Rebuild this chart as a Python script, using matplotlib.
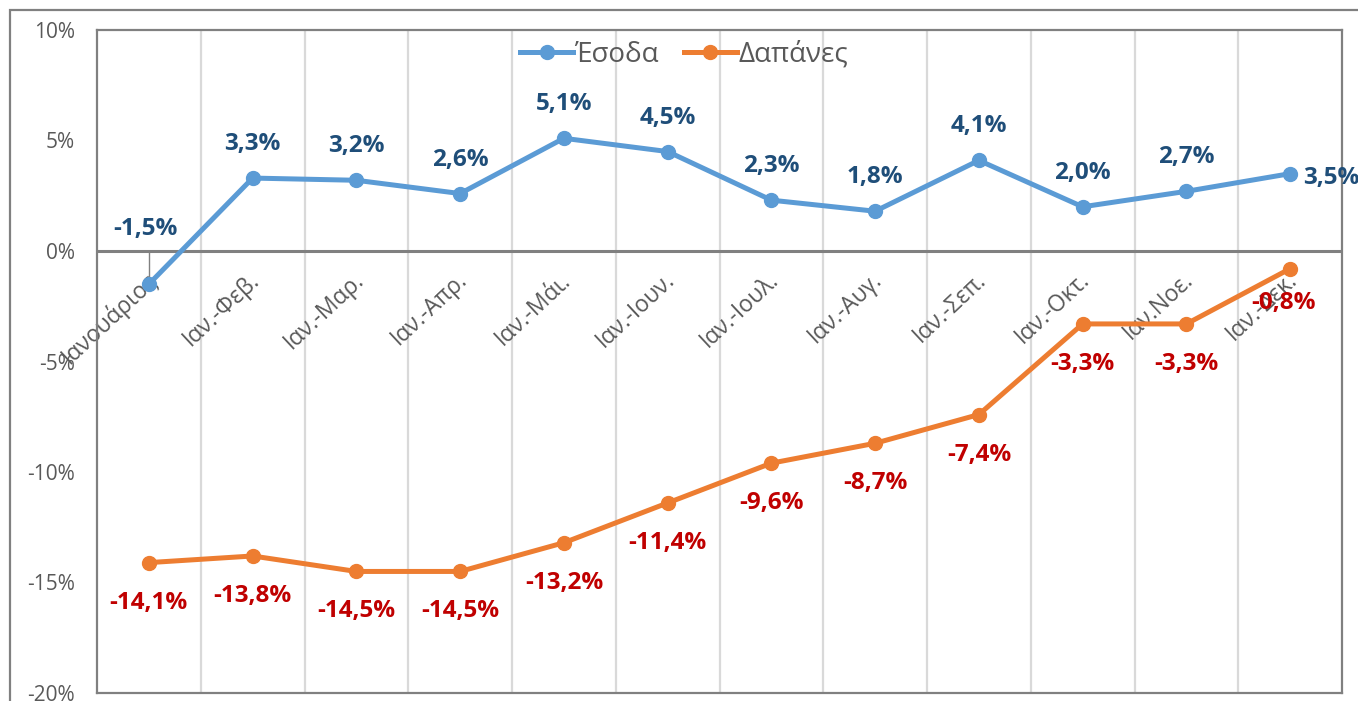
import matplotlib
matplotlib.use("Agg")
import matplotlib.pyplot as plt
from matplotlib.patches import Rectangle

months = ["Ιανουάριος", "Ιαν.-Φεβ.", "Ιαν.-Μαρ.", "Ιαν.-Απρ.", "Ιαν.-Μάι.", "Ιαν.-Ιουν.",
          "Ιαν.-Ιουλ.", "Ιαν.-Αυγ.", "Ιαν.-Σεπ.", "Ιαν.-Οκτ.", "Ιαν.Νοε.", "Ιαν.-Δεκ."]
esoda = [-1.5, 3.3, 3.2, 2.6, 5.1, 4.5, 2.3, 1.8, 4.1, 2.0, 2.7, 3.5]
dapanes = [-14.1, -13.8, -14.5, -14.5, -13.2, -11.4, -9.6, -8.7, -7.4, -3.3, -3.3, -0.8]
yticks = [10, 5, 0, -5, -10, -15, -20]

plt.rcParams['font.family'] = ['Open Sans', 'DejaVu Sans']

blue = '#5B9BD5'
orange = '#ED7D31'
gray = '#808080'
txtgray = '#595959'

fig = plt.figure(figsize=(13.58, 7.01), dpi=100)
ax = fig.add_axes([97/1358, 1 - 693/701, (1342-97)/1358, 663/701])

# outer chart frame (cut at right and bottom)
fig.patches.append(Rectangle((10/1358, -0.1), 1.2, 1 - 10/701 + 0.1, transform=fig.transFigure,
                             fill=False, edgecolor=gray, linewidth=1.6))

x = list(range(len(months)))
ax.set_xlim(-0.5, 11.5)
ax.set_ylim(-20, 10)

# vertical gridlines between categories
for b in range(1, 12):
    ax.axvline(b - 0.5, color='#D9D9D9', linewidth=1.6, zorder=0)
ax.axhline(0, color=gray, linewidth=2.2, zorder=1)

for s in ax.spines.values():
    s.set_color(gray)
    s.set_linewidth(1.6)

ax.plot(x, esoda, color=blue, linewidth=3.6, marker='o', markersize=10, label='Έσοδα', zorder=3)
ax.plot(x, dapanes, color=orange, linewidth=3.6, marker='o', markersize=10, label='Δαπάνες', zorder=3)

ax.set_yticks(yticks)
ax.set_yticklabels([f"{v}%" for v in yticks])
ax.tick_params(axis='y', length=0, pad=16, labelsize=15, labelcolor=txtgray)
ax.set_xticks([])

# category labels, rotated, ending just below the zero line
for i, m in enumerate(months):
    ax.annotate(m, xy=(i, 0), xytext=(4, -26), textcoords='offset pixels',
                rotation=43, rotation_mode='anchor', ha='right', va='center',
                fontsize=16.5, color=txtgray, annotation_clip=False, zorder=2)

def fmt(v):
    return f"{v:.1f}%".replace('.', ',')

lab = dict(fontsize=17.5, fontweight='bold')

# data labels for Έσοδα
for i, v in enumerate(esoda):
    if i == 0:
        ax.plot([i, i], [0, v], color=gray, linewidth=1, zorder=2)
        ax.annotate(fmt(v), xy=(i, 0), xytext=(-3, 22), textcoords='offset pixels',
                    ha='center', va='center', color='#1F4E79', **lab)
    elif i == len(esoda) - 1:
        ax.annotate(fmt(v), xy=(i, v), xytext=(13, -4), textcoords='offset pixels',
                    ha='left', va='center', color='#1F4E79', annotation_clip=False, **lab)
    else:
        ax.annotate(fmt(v), xy=(i, v), xytext=(0, 34), textcoords='offset pixels',
                    ha='center', va='center', color='#1F4E79', **lab)

# data labels for Δαπάνες
for i, v in enumerate(dapanes):
    dx = -7 if i == len(dapanes) - 1 else 0
    dy = -34 if i == len(dapanes) - 1 else -40
    ax.annotate(fmt(v), xy=(i, v), xytext=(dx, dy), textcoords='offset pixels',
                ha='center', va='center', color='#C00000', zorder=4, **lab)

leg = ax.legend(loc='center', ncol=2, frameon=False, fontsize=20, handlelength=1.9,
                columnspacing=0.9, handletextpad=0.05, labelcolor=txtgray)
leg.set_bbox_to_anchor(((684 - 97) / 1245, 1 - (55 - 30) / 663), transform=ax.transAxes)

fig.savefig('out.png', dpi=100)
